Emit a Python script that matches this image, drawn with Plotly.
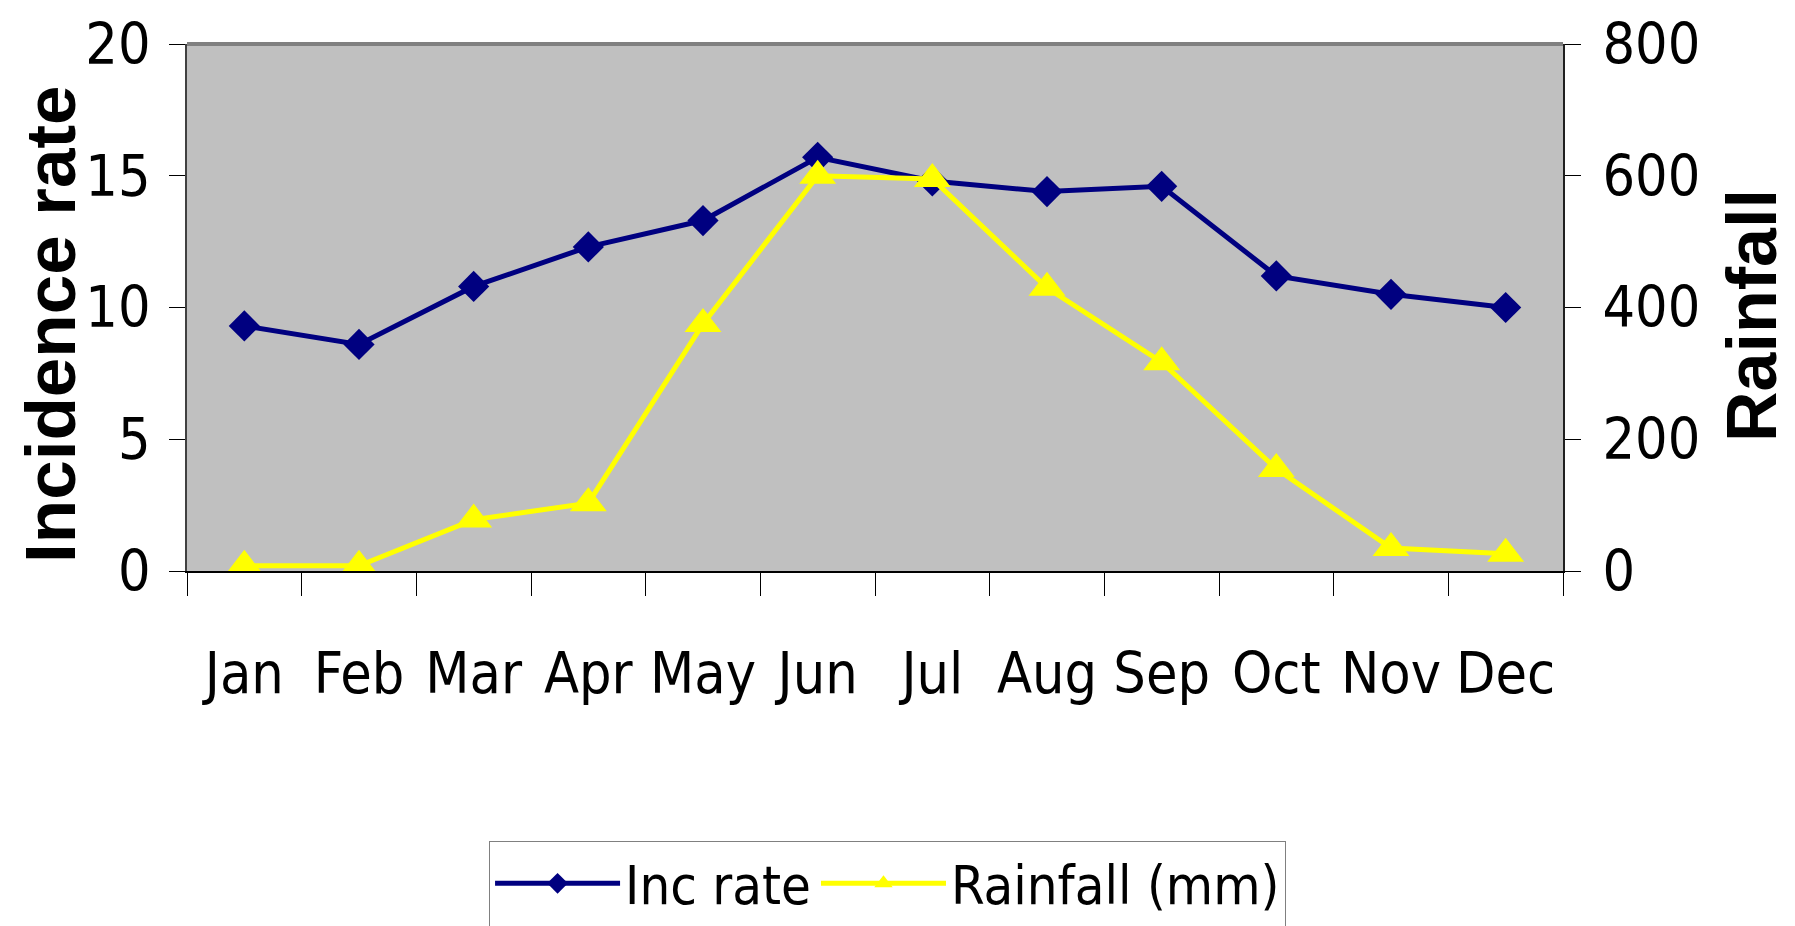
import plotly.graph_objects as go

months = ["Jan", "Feb", "Mar", "Apr", "May", "Jun", "Jul", "Aug", "Sep", "Oct", "Nov", "Dec"]
inc_rate = [9.3, 8.6, 10.8, 12.3, 13.3, 15.7, 14.8, 14.4, 14.6, 11.2, 10.5, 10.0]
rainfall = [8, 8, 78, 103, 375, 600, 595, 430, 317, 155, 35, 26]

left_ticks = [0, 5, 10, 15, 20]
right_ticks = [0, 200, 400, 600, 800]

NARROW = "DejaVu Sans Condensed, Liberation Sans Narrow, Arial Narrow, sans-serif"
BOLD = "Liberation Sans, Arial, sans-serif"

fig = go.Figure()
fig.add_trace(go.Scatter(
    x=months, y=inc_rate, name="Inc rate", mode="lines+markers",
    line=dict(color="#000080", width=5),
    marker=dict(symbol="diamond", size=24, color="#000080"),
    xaxis="x", yaxis="y",
))
fig.add_trace(go.Scatter(
    x=months, y=rainfall, name="Rainfall (mm)", mode="lines+markers",
    line=dict(color="#FFFF00", width=5),
    marker=dict(symbol="triangle-up", size=32, color="#FFFF00"),
    xaxis="x", yaxis="y2",
))

tickfont = dict(family=NARROW, size=57, color="black")

fig.update_layout(
    width=1795, height=926,
    margin=dict(l=179, r=240, t=36, b=363, autoexpand=False),
    paper_bgcolor="white",
    plot_bgcolor="#C0C0C0",
    showlegend=True,
    legend=dict(
        orientation="h", xref="container", yref="container",
        x=0.268, y=0.1007, xanchor="left", yanchor="top",
        font=dict(family=NARROW, size=54, color="black"),
        bordercolor="#808080", borderwidth=1, bgcolor="white",
        itemwidth=125,
    ),
    xaxis=dict(
        type="category", categoryorder="array", categoryarray=months,
        range=[-0.5, 11.5], tickson="boundaries", tickangle=0,
        ticks="outside", ticklen=23, tickwidth=1, tickcolor="black",
        showline=True, linecolor="black", linewidth=2,
        showgrid=False, zeroline=False, automargin=False,
        tickfont=tickfont, ticklabelstandoff=52,
    ),
    xaxis3=dict(
        overlaying="x", type="linear", range=[-0.5, 11.5],
        tick0=-0.5, dtick=1, ticks="inside", ticklen=22, tickwidth=1, tickcolor="black",
        showticklabels=False, showgrid=False, zeroline=False, showline=False,
    ),
    yaxis=dict(
        range=[0, 20], tickvals=left_ticks,
        ticks="outside", ticklen=16, tickwidth=1, tickcolor="black",
        showline=True, linecolor="#404040", linewidth=2,
        showgrid=False, zeroline=False, automargin=False,
        tickfont=tickfont, ticklabelstandoff=7,
    ),
    yaxis3=dict(
        overlaying="y", side="left", range=[0, 20], tickvals=left_ticks,
        ticks="inside", ticklen=16, tickwidth=1, tickcolor="black",
        showticklabels=False, showgrid=False, zeroline=False, showline=False,
    ),
    yaxis2=dict(
        overlaying="y", side="right", range=[0, 800], tickvals=right_ticks,
        ticks="outside", ticklen=16, tickwidth=1, tickcolor="black",
        showline=True, linecolor="#202020", linewidth=2,
        showgrid=False, zeroline=False, automargin=False,
        tickfont=tickfont, ticklabelstandoff=10,
    ),
    yaxis4=dict(
        overlaying="y", side="right", range=[0, 800], tickvals=right_ticks,
        ticks="inside", ticklen=16, tickwidth=1, tickcolor="black",
        showticklabels=False, showgrid=False, zeroline=False, showline=False,
    ),
    shapes=[dict(
        type="line", xref="x domain", yref="y domain",
        x0=0, x1=1, y0=1, y1=1, line=dict(color="#808080", width=4),
    )],
    annotations=[
        dict(text="<b>Incidence rate</b>", xref="paper", yref="paper",
             x=0, y=0.467, xanchor="center", yanchor="middle", xshift=-136,
             textangle=-90, showarrow=False,
             font=dict(family=BOLD, size=71, color="black")),
        dict(text="<b>Rainfall</b>", xref="paper", yref="paper",
             x=1, y=0.484, xanchor="center", yanchor="middle", xshift=189,
             textangle=-90, showarrow=False,
             font=dict(family=BOLD, size=70, color="black")),
    ],
)

fig.write_html("out.html")
